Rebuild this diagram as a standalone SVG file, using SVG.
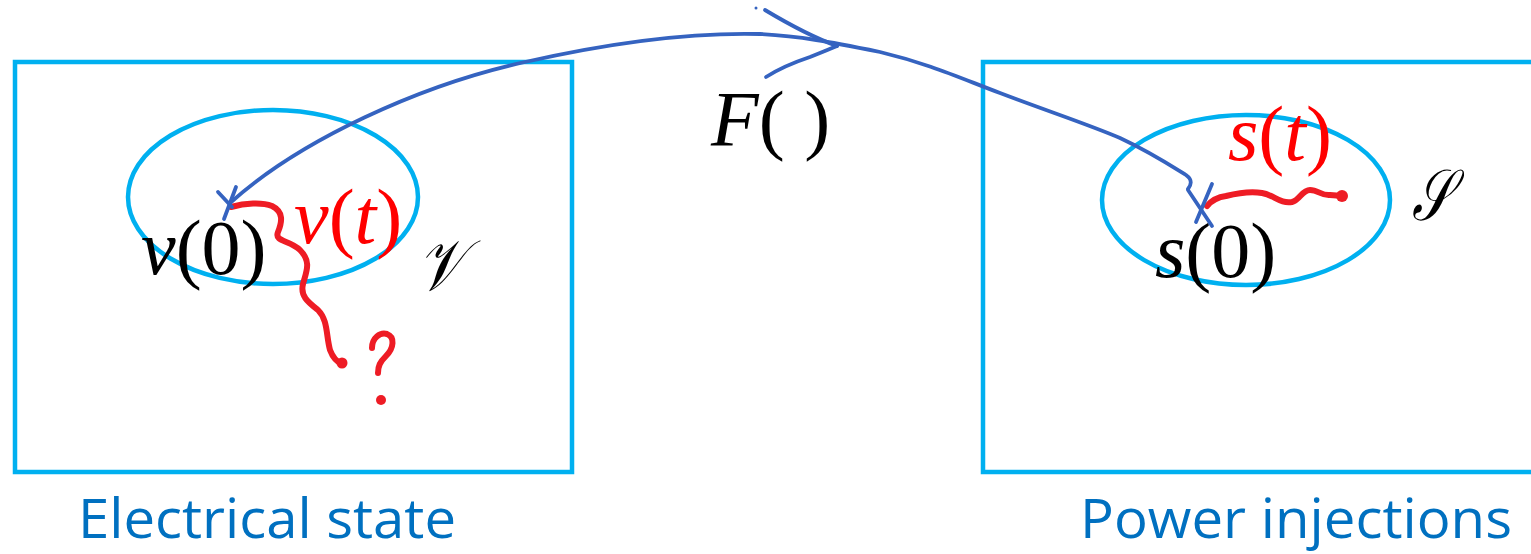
<svg xmlns="http://www.w3.org/2000/svg" width="1531" height="554" viewBox="0 0 1531 554">
<style>
.box{fill:none;stroke:#00B0F0;stroke-width:4.5}
.ell{fill:none;stroke:#00B0F0;stroke-width:4.5}
.ink{fill:none;stroke:#3563C0;stroke-width:3.8;stroke-linecap:round;stroke-linejoin:round}
.red{fill:none;stroke:#EE1C25;stroke-width:6;stroke-linecap:round;stroke-linejoin:round}
.math{font-family:"Liberation Serif","DejaVu Serif",serif;font-size:78px;fill:#000}
.scr{font-family:"Liberation Serif","DejaVu Serif",serif;font-size:72px;fill:#000;font-style:italic}
.mr{fill:#FF0000}
.it{font-style:italic}
.lbl{font-family:"Open Sans","Liberation Sans",sans-serif;font-size:54px;fill:#0070C0}
</style>
<g id="electrical-state">
<rect class="box" x="15" y="62" width="557" height="410"/>
<ellipse class="ell" cx="273" cy="197" rx="145" ry="87"/>
<text class="lbl" x="78" y="538" textLength="378" lengthAdjust="spacingAndGlyphs">Electrical state</text>
<text class="math" x="141" y="274"><tspan class="it">v</tspan>(0)</text>
<text class="math mr" x="294" y="243"><tspan class="it">v</tspan>(<tspan class="it">t</tspan>)</text>
<text class="scr" x="418" y="290" textLength="46" lengthAdjust="spacingAndGlyphs">𝒱</text>
<path class="red" d="M231,207 C245,203 262,202 272,206 C284,212 282,222 278,232 C274,242 290,240 300,250 C312,262 306,272 303,284 C300,296 308,302 318,310 C328,320 326,335 330,350 C333,358 337,362 342,364"/>
<circle cx="342" cy="363" r="5.5" fill="#EE1C25"/>
<path class="red" d="M372,348 C372,338 380,332 387,334 C395,337 394,348 386,356 C380,362 378,366 378,373" stroke-width="4.5"/>
<circle cx="381" cy="400" r="5" fill="#EE1C25"/>
</g>
<g id="power-injections">
<rect class="box" x="983" y="62" width="560" height="410"/>
<ellipse class="ell" cx="1246" cy="200" rx="144" ry="85"/>
<text class="lbl" x="1080" y="538" textLength="432" lengthAdjust="spacingAndGlyphs">Power injections</text>
<text class="math" x="1155" y="277"><tspan class="it">s</tspan>(0)</text>
<text class="math mr" x="1228" y="160"><tspan class="it">s</tspan>(<tspan class="it">t</tspan>)</text>
<text class="scr" x="1412" y="220" textLength="40" lengthAdjust="spacingAndGlyphs">𝒮</text>
<path class="red" d="M1207,206 C1212,200 1218,197 1226,196 C1238,193 1250,191 1262,193 C1274,195 1280,204 1292,202 C1300,200 1302,190 1310,190 C1318,190 1322,196 1330,195 L1343,196"/>
<circle cx="1342" cy="196" r="6" fill="#EE1C25"/>
</g>
<g id="function-label">
<text class="math" x="711" y="145" font-size="72"><tspan class="it">F</tspan>( )</text>
</g>
<g id="connectors">
<path class="ink" d="M230,203 C300,140 420,85 525,62 C600,45 680,32 760,34 C800,36 830,42 880,52 C930,64 960,78 1000,93 C1050,112 1090,125 1120,138 C1150,152 1170,165 1186,175 C1193,180 1191,185 1188,189"/>
<path class="ink" d="M1188,190 L1212,226"/>
<path class="ink" d="M1212,184 L1196,222"/>
<path class="ink" d="M218,192 L232,207"/>
<path class="ink" d="M236,187 L224,219"/>
<path class="ink" d="M765,10 C790,25 815,38 837,46"/>
<path class="ink" d="M766,77 C780,68 795,62 810,57 C820,53 830,49 837,46"/>
<circle cx="756" cy="8" r="1.5" fill="#3563C0"/>
</g>
</svg>
